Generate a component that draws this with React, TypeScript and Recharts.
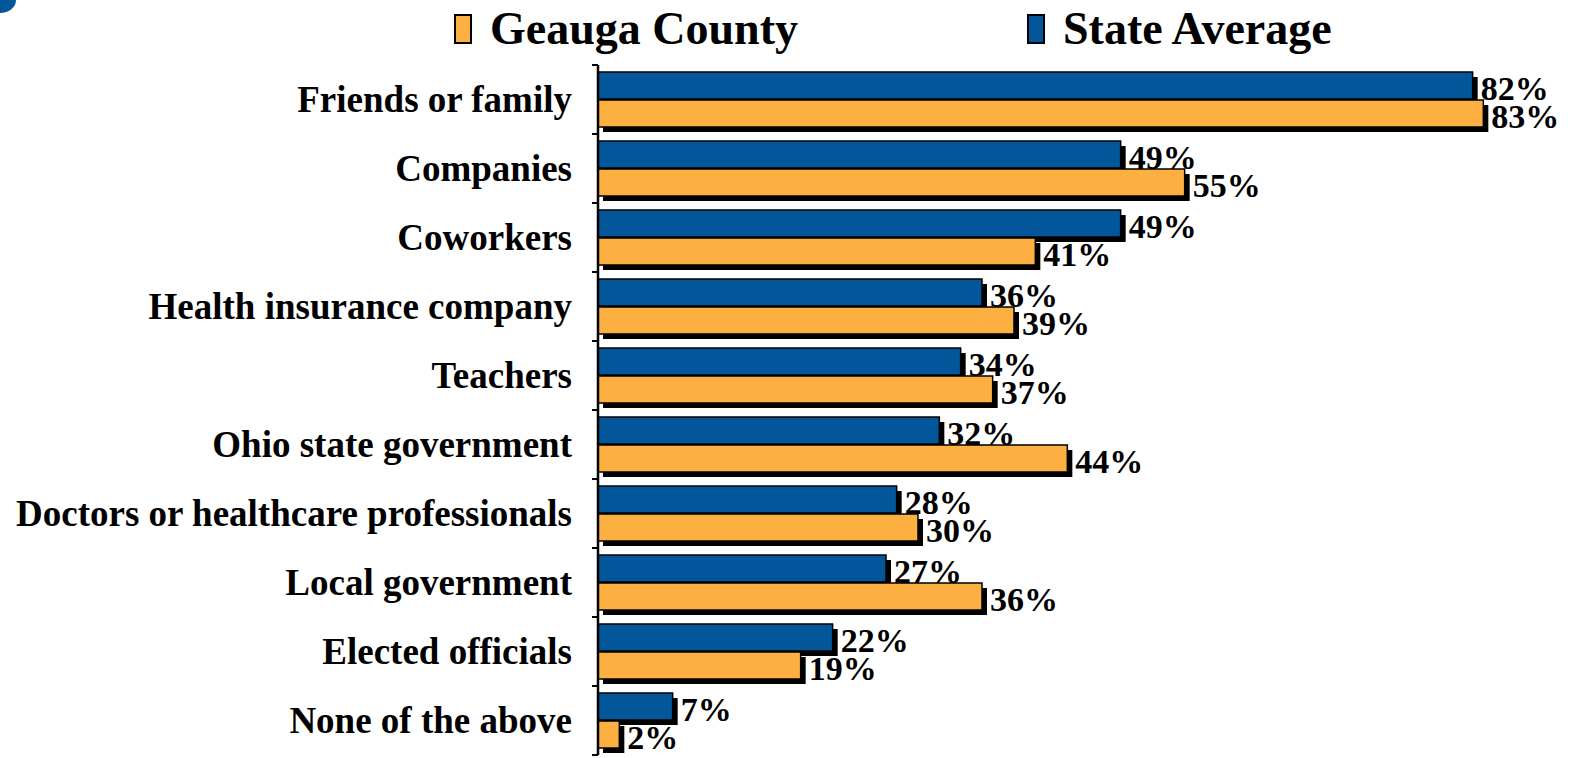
import React from "react";
import { BarChart, Bar, XAxis, YAxis, LabelList } from "recharts";

const categories = [
  "Friends or family",
  "Companies",
  "Coworkers",
  "Health insurance company",
  "Teachers",
  "Ohio state government",
  "Doctors or healthcare professionals",
  "Local government",
  "Elected officials",
  "None of the above",
];
const geaugaValues = [83, 55, 41, 39, 37, 44, 30, 36, 19, 2];
const stateValues = [82, 49, 49, 36, 34, 32, 28, 27, 22, 7];

const BLUE = "#03569a";
const ORANGE = "#fcb042";
const SERIF = "'Liberation Serif', 'Times New Roman', serif";

const data = categories.map((name, i) => ({
  name,
  geauga: geaugaValues[i],
  state: stateValues[i],
}));

// bar with a black drop shadow, like the old office chart
const ShadowBar = (props: any) => {
  const { x, y, width, height, fill } = props;
  if (width == null || height == null) return null;
  return (
    <g>
      <rect x={x + 5} y={y + 5} width={width} height={height} fill="#000" />
      <rect x={x} y={y} width={width} height={height} fill={fill} stroke="#000" strokeWidth={1.5} />
    </g>
  );
};

const renderValue = (props: any) => {
  const { x, y, width, height, value } = props;
  return (
    <text
      x={x + width + 8}
      y={y + height / 2 + 3}
      dominantBaseline="central"
      fontFamily={SERIF}
      fontWeight="bold"
      fontSize={34}
      fill="#000"
    >
      {value}%
    </text>
  );
};

// category label plus the tick marks between categories
const CategoryTick = (props: any) => {
  const { x, y, payload } = props;
  const half = payload && payload.offset ? payload.offset : 34.5;
  const axisX = x + 26;
  return (
    <g>
      <line x1={axisX - 6} x2={axisX} y1={y - half} y2={y - half} stroke="#000" strokeWidth={2} />
      {payload.index === categories.length - 1 && (
        <line x1={axisX - 6} x2={axisX} y1={y + half} y2={y + half} stroke="#000" strokeWidth={2} />
      )}
      <text
        x={x}
        y={y}
        textAnchor="end"
        dominantBaseline="central"
        fontFamily={SERIF}
        fontWeight="bold"
        fontSize={37}
        fill="#000"
      >
        {payload.value}
      </text>
    </g>
  );
};

const LegendItem = ({ color, label, left }: any) => (
  <div style={{ position: "absolute", left, top: 3, display: "flex", alignItems: "center" }}>
    <div style={{ width: 14, height: 26, background: color, border: "2px solid #000", marginRight: 18 }} />
    <span style={{ fontFamily: SERIF, fontWeight: "bold", fontSize: 46, lineHeight: "52px", color: "#000" }}>
      {label}
    </span>
  </div>
);

const App = () => {
  return (
    <div style={{ position: "absolute", left: 0, top: 0, width: 1577, height: 758, overflow: "hidden", background: "#fff" }}>
      <div
        style={{
          position: "absolute",
          left: -16,
          top: -13,
          width: 32,
          height: 26,
          borderRadius: "50%",
          background: BLUE,
        }}
      />
      <LegendItem color={ORANGE} label="Geauga County" left={454} />
      <LegendItem color={BLUE} label="State Average" left={1027} />
      <BarChart
        width={1577}
        height={758}
        layout="vertical"
        data={data}
        margin={{ top: 65, right: 19, bottom: 3, left: 0 }}
        barSize={27}
        barGap={1}
      >
        <XAxis type="number" domain={[0, 90]} hide />
        <YAxis
          type="category"
          dataKey="name"
          width={598}
          axisLine={{ stroke: "#000", strokeWidth: 2.5 }}
          tickLine={false}
          tickSize={0}
          tickMargin={26}
          interval={0}
          tick={<CategoryTick />}
        />
        <Bar dataKey="state" fill={BLUE} shape={<ShadowBar />} isAnimationActive={false}>
          <LabelList dataKey="state" content={renderValue} />
        </Bar>
        <Bar dataKey="geauga" fill={ORANGE} shape={<ShadowBar />} isAnimationActive={false}>
          <LabelList dataKey="geauga" content={renderValue} />
        </Bar>
      </BarChart>
    </div>
  );
};

export default App;
